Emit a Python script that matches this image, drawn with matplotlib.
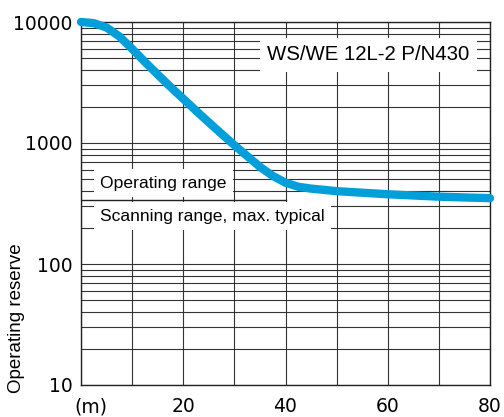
import numpy as np
import matplotlib.pyplot as plt
from matplotlib.ticker import LogLocator, NullFormatter
from matplotlib.transforms import ScaledTranslation

# curve (distance in m, operating reserve)
distance = [0, 2.5, 5, 7.5, 10, 12.5, 15, 17.5, 20, 22.5, 25, 27.5, 30, 32.5, 35, 37.5,
            40, 42.5, 45, 50, 60, 70, 80]
reserve = [10000, 9780, 9000, 7600, 6000, 4680, 3680, 2910, 2320, 1850, 1480, 1190,
           960, 780, 635, 535, 470, 435, 420, 400, 377, 360, 350]

x_ticks = [0, 20, 40, 60, 80]
x_labels = ['(m)', '20', '40', '60', '80']
x_minor = [10, 30, 50, 70]
y_ticks = [10, 100, 1000, 10000]
y_labels = ['10', '100', '1000', '10000']

sep_level = 338
sep_end = 40

fig = plt.figure(figsize=(5.04, 4.17), dpi=100)
ax = fig.add_axes([81/504, 32/417, 409/504, 363/417])
ax.set_yscale('log')
ax.set_xlim(0, 80)
ax.set_ylim(10, 10000)
ax.set_axisbelow(True)

ax.set_xticks(x_ticks)
ax.set_xticklabels(x_labels, fontsize=13.5, family='DejaVu Sans')
ax.set_xticks(x_minor, minor=True)
ax.set_yticks(y_ticks)
ax.set_yticklabels(y_labels, fontsize=13.5, family='DejaVu Sans')
ax.yaxis.set_minor_locator(LogLocator(base=10, subs=np.arange(2, 10)))
ax.yaxis.set_minor_formatter(NullFormatter())

ax.grid(which='both', color='#333333', lw=0.8)
ax.tick_params(which='both', length=0)
ax.tick_params(axis='x', pad=9)
ax.tick_params(axis='y', pad=6)
for s in ax.spines.values():
    s.set_color('#222222')
    s.set_linewidth(1)

# shift "(m)" a bit right like the original
lbl = ax.get_xticklabels()[0]
lbl.set_transform(lbl.get_transform() + ScaledTranslation(7/72, 0, fig.dpi_scale_trans))

ax.plot(distance, reserve, color='#009FDA', lw=6, solid_capstyle='round',
        solid_joinstyle='round', zorder=5, clip_on=False)

ax.plot([0, sep_end], [sep_level, sep_level], color='#222222', lw=1, zorder=4)

box = dict(facecolor='white', edgecolor='none', boxstyle='square,pad=0.35')
ax.text(56.2, 5337, 'WS/WE 12L-2 P/N430', fontsize=14.7, family='Liberation Sans',
        ha='center', va='center', bbox=box, zorder=3)
ax.text(3.7, 467, 'Operating range', fontsize=12.6, family='Liberation Sans',
        ha='left', va='center', bbox=box, zorder=3)
ax.text(3.7, 249, 'Scanning range, max. typical', fontsize=12.6, family='Liberation Sans',
        ha='left', va='center', bbox=box, zorder=3)

fig.text(16.7/504, 1 - 393/417, 'Operating reserve', rotation=90, fontsize=13.5,
         family='Liberation Sans', ha='center', va='bottom')

fig.savefig('out.png', dpi=100)
